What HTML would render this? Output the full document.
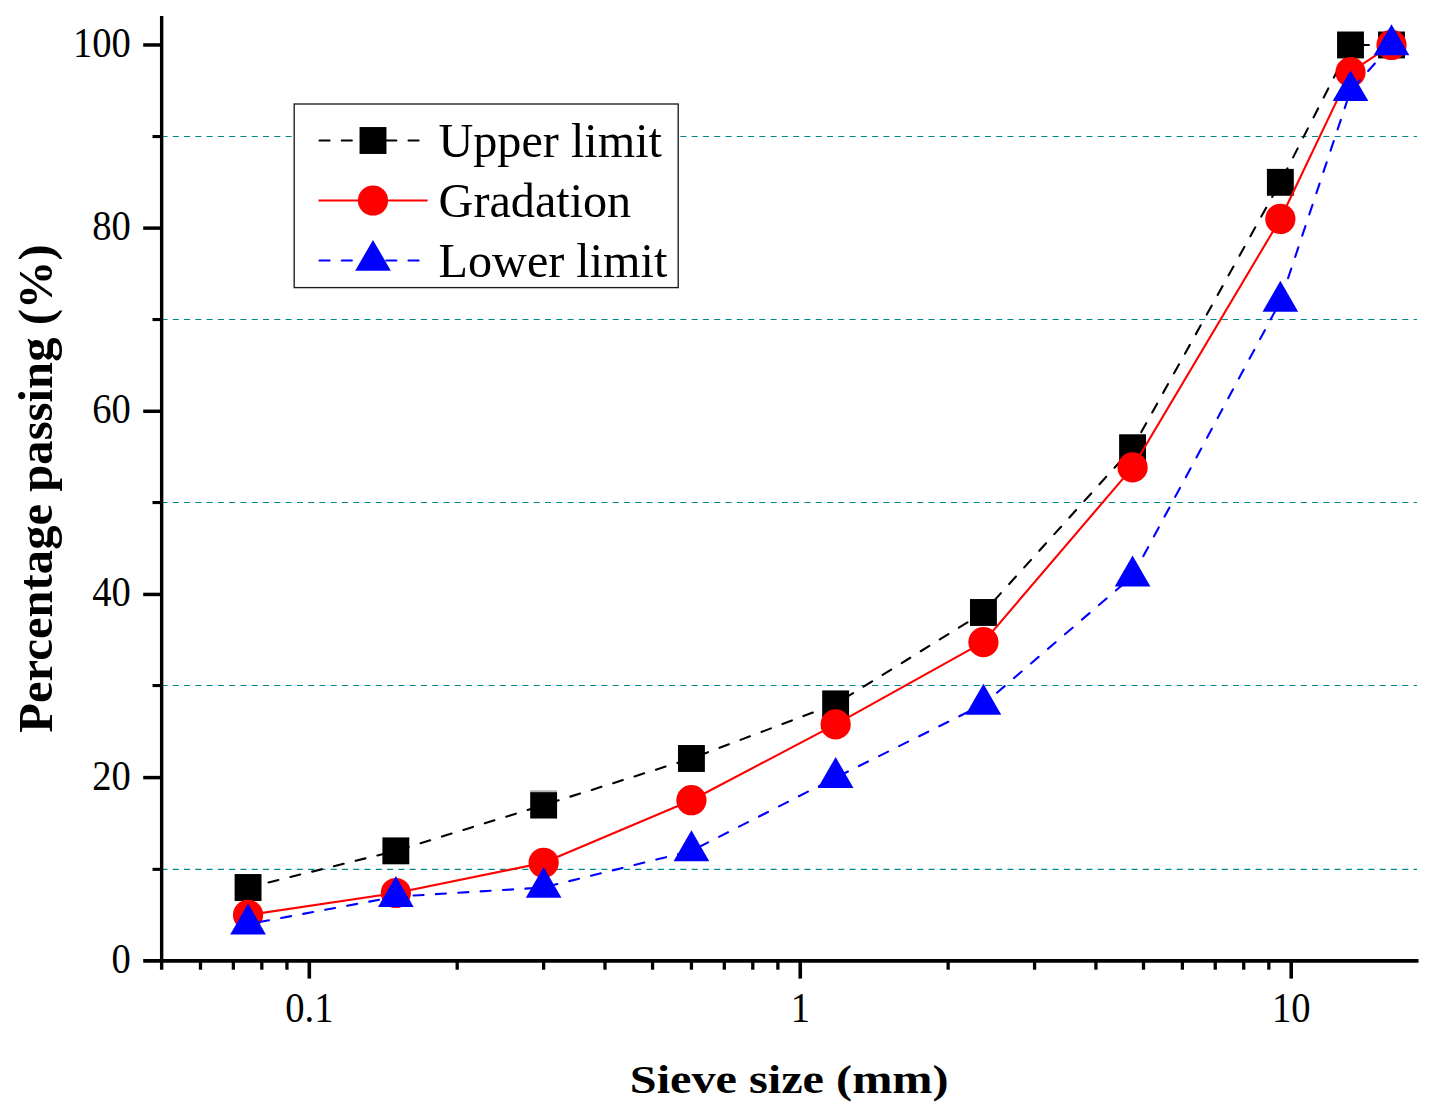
<!DOCTYPE html>
<html><head><meta charset="utf-8"><title>Gradation curve</title>
<style>
html,body{margin:0;padding:0;background:#fff;}
body{width:1437px;height:1115px;overflow:hidden;}
svg{display:block;}
text{font-family:"Liberation Serif",serif;fill:#000;}
</style></head><body>
<svg width="1437" height="1115" viewBox="0 0 1437 1115">
<rect x="0" y="0" width="1437" height="1115" fill="#ffffff"/>
<g stroke="#008b8b" stroke-width="1.15" stroke-dasharray="6.1 5.18" fill="none">
<line x1="161.44" y1="869.30" x2="1417.00" y2="869.30"/>
<line x1="161.44" y1="685.50" x2="1417.00" y2="685.50"/>
<line x1="161.44" y1="502.50" x2="1417.00" y2="502.50"/>
<line x1="161.44" y1="319.50" x2="1417.00" y2="319.50"/>
<line x1="161.44" y1="136.50" x2="1417.00" y2="136.50"/>
</g>
<polyline points="248.06,887.50 395.85,850.86 543.64,805.07 691.43,758.46 835.64,703.88 983.43,612.48 1132.57,447.73 1280.36,182.33 1350.50,44.96 1391.51,44.96" fill="none" stroke="#000" stroke-width="2.1" stroke-dasharray="10.1 12.32" stroke-dashoffset="1.24" stroke-linecap="round" stroke-linejoin="round"/>
<rect x="234.61" y="874.05" width="26.90" height="26.90" fill="#000"/>
<rect x="382.40" y="837.41" width="26.90" height="26.90" fill="#000"/>
<rect x="530.19" y="791.62" width="26.90" height="26.90" fill="#000"/>
<rect x="677.98" y="745.01" width="26.90" height="26.90" fill="#000"/>
<rect x="822.19" y="690.43" width="26.90" height="26.90" fill="#000"/>
<rect x="969.98" y="599.03" width="26.90" height="26.90" fill="#000"/>
<rect x="1119.12" y="434.28" width="26.90" height="26.90" fill="#000"/>
<rect x="1266.91" y="168.88" width="26.90" height="26.90" fill="#000"/>
<rect x="1337.05" y="31.51" width="26.90" height="26.90" fill="#000"/>
<rect x="1378.06" y="31.51" width="26.90" height="26.90" fill="#000"/>
<rect x="530.2" y="790.2" width="26.8" height="2" fill="#b4b4b4"/>
<polyline points="248.06,914.97 395.85,892.99 543.64,862.77 691.43,800.22 835.64,724.39 983.43,642.15 1132.57,467.42 1280.36,218.96 1350.50,72.16 1391.51,44.96" fill="none" stroke="#ff0000" stroke-width="2.1" stroke-linejoin="round"/>
<circle cx="248.06" cy="914.97" r="15.1" fill="#ff0000"/>
<circle cx="395.85" cy="892.99" r="15.1" fill="#ff0000"/>
<circle cx="543.64" cy="862.77" r="15.1" fill="#ff0000"/>
<circle cx="691.43" cy="800.22" r="15.1" fill="#ff0000"/>
<circle cx="835.64" cy="724.39" r="15.1" fill="#ff0000"/>
<circle cx="983.43" cy="642.15" r="15.1" fill="#ff0000"/>
<circle cx="1132.57" cy="467.42" r="15.1" fill="#ff0000"/>
<circle cx="1280.36" cy="218.96" r="15.1" fill="#ff0000"/>
<circle cx="1350.50" cy="72.16" r="15.1" fill="#ff0000"/>
<circle cx="1391.51" cy="44.96" r="15.1" fill="#ff0000"/>
<polyline points="248.06,924.13 395.85,896.65 543.64,887.50 691.43,850.86 835.64,777.60 983.43,704.34 1132.57,576.12 1280.36,301.38 1350.50,90.75 1391.51,44.96" fill="none" stroke="#0000ff" stroke-width="2.1" stroke-dasharray="10.1 12.3" stroke-dashoffset="11.16" stroke-linecap="round" stroke-linejoin="round"/>
<polygon points="248.06,903.53 265.90,934.43 230.22,934.43" fill="#0000ff"/>
<polygon points="395.85,876.05 413.69,906.95 378.01,906.95" fill="#0000ff"/>
<polygon points="543.64,866.90 561.48,897.80 525.80,897.80" fill="#0000ff"/>
<polygon points="691.43,830.26 709.27,861.16 673.59,861.16" fill="#0000ff"/>
<polygon points="835.64,757.00 853.48,787.90 817.80,787.90" fill="#0000ff"/>
<polygon points="983.43,683.74 1001.27,714.64 965.59,714.64" fill="#0000ff"/>
<polygon points="1132.57,555.52 1150.41,586.42 1114.73,586.42" fill="#0000ff"/>
<polygon points="1280.36,280.78 1298.20,311.68 1262.52,311.68" fill="#0000ff"/>
<polygon points="1350.50,70.15 1368.34,101.05 1332.66,101.05" fill="#0000ff"/>
<polygon points="1391.51,24.36 1409.35,55.26 1373.67,55.26" fill="#0000ff"/>
<g stroke="#000" fill="none" stroke-linecap="butt">
<line x1="161.65" y1="16.10" x2="161.65" y2="969.80" stroke-width="3.4"/>
<line x1="143.20" y1="960.90" x2="1418.50" y2="960.90" stroke-width="3.7"/>
<line x1="152.50" y1="869.35" x2="161.65" y2="869.35" stroke-width="3.1"/>
<line x1="143.20" y1="777.60" x2="161.65" y2="777.60" stroke-width="3.5"/>
<line x1="152.50" y1="685.55" x2="161.65" y2="685.55" stroke-width="3.1"/>
<line x1="143.20" y1="594.44" x2="161.65" y2="594.44" stroke-width="3.5"/>
<line x1="152.50" y1="502.55" x2="161.65" y2="502.55" stroke-width="3.1"/>
<line x1="143.20" y1="411.28" x2="161.65" y2="411.28" stroke-width="3.5"/>
<line x1="152.50" y1="319.55" x2="161.65" y2="319.55" stroke-width="3.1"/>
<line x1="143.20" y1="228.12" x2="161.65" y2="228.12" stroke-width="3.5"/>
<line x1="152.50" y1="136.55" x2="161.65" y2="136.55" stroke-width="3.1"/>
<line x1="143.20" y1="44.96" x2="161.65" y2="44.96" stroke-width="3.5"/>
<line x1="200.48" y1="960.90" x2="200.48" y2="969.70" stroke-width="3.3"/>
<line x1="233.35" y1="960.90" x2="233.35" y2="969.70" stroke-width="3.3"/>
<line x1="261.82" y1="960.90" x2="261.82" y2="969.70" stroke-width="3.3"/>
<line x1="286.94" y1="960.90" x2="286.94" y2="969.70" stroke-width="3.3"/>
<line x1="309.30" y1="960.90" x2="309.30" y2="978.60" stroke-width="3.6"/>
<line x1="457.19" y1="960.90" x2="457.19" y2="969.70" stroke-width="3.3"/>
<line x1="543.64" y1="960.90" x2="543.64" y2="969.70" stroke-width="3.3"/>
<line x1="604.98" y1="960.90" x2="604.98" y2="969.70" stroke-width="3.3"/>
<line x1="652.56" y1="960.90" x2="652.56" y2="969.70" stroke-width="3.3"/>
<line x1="691.43" y1="960.90" x2="691.43" y2="969.70" stroke-width="3.3"/>
<line x1="724.30" y1="960.90" x2="724.30" y2="969.70" stroke-width="3.3"/>
<line x1="752.77" y1="960.90" x2="752.77" y2="969.70" stroke-width="3.3"/>
<line x1="777.89" y1="960.90" x2="777.89" y2="969.70" stroke-width="3.3"/>
<line x1="800.25" y1="960.90" x2="800.25" y2="978.60" stroke-width="3.6"/>
<line x1="948.14" y1="960.90" x2="948.14" y2="969.70" stroke-width="3.3"/>
<line x1="1034.59" y1="960.90" x2="1034.59" y2="969.70" stroke-width="3.3"/>
<line x1="1095.93" y1="960.90" x2="1095.93" y2="969.70" stroke-width="3.3"/>
<line x1="1143.51" y1="960.90" x2="1143.51" y2="969.70" stroke-width="3.3"/>
<line x1="1182.38" y1="960.90" x2="1182.38" y2="969.70" stroke-width="3.3"/>
<line x1="1215.25" y1="960.90" x2="1215.25" y2="969.70" stroke-width="3.3"/>
<line x1="1243.72" y1="960.90" x2="1243.72" y2="969.70" stroke-width="3.3"/>
<line x1="1268.84" y1="960.90" x2="1268.84" y2="969.70" stroke-width="3.3"/>
<line x1="1291.20" y1="960.90" x2="1291.20" y2="978.60" stroke-width="3.6"/>
</g>
<text font-size="40" text-anchor="end" transform="translate(130.80,972.66) scale(0.965,1.03)">0</text>
<text font-size="40" text-anchor="end" transform="translate(130.80,789.50) scale(0.965,1.03)">20</text>
<text font-size="40" text-anchor="end" transform="translate(130.80,606.34) scale(0.965,1.03)">40</text>
<text font-size="40" text-anchor="end" transform="translate(130.80,423.18) scale(0.965,1.03)">60</text>
<text font-size="40" text-anchor="end" transform="translate(130.80,240.02) scale(0.965,1.03)">80</text>
<text font-size="40" text-anchor="end" transform="translate(130.80,56.86) scale(0.965,1.03)">100</text>
<text font-size="40" text-anchor="middle" transform="translate(309.40,1022.20) scale(0.965,1.03)">0.1</text>
<text font-size="40" text-anchor="middle" transform="translate(800.35,1022.20) scale(0.965,1.03)">1</text>
<text font-size="40" text-anchor="middle" transform="translate(1291.30,1022.20) scale(0.965,1.03)">10</text>
<text font-size="49" font-weight="bold" text-anchor="middle" transform="translate(51.8,488.5) rotate(-90) scale(0.9935,1.005)">Percentage passing (%)</text>
<text font-size="49" font-weight="bold" text-anchor="middle" transform="translate(789.2,1093.4) scale(0.9845,0.838)">Sieve size (mm)</text>
<rect x="294.2" y="104" width="384" height="183.6" fill="#fff" stroke="#1c1c1c" stroke-width="1.35"/>
<line x1="319.50" y1="140.50" x2="426.60" y2="140.50" stroke="#000" stroke-width="2.1" stroke-dasharray="10.1 12.15" stroke-linecap="round"/>
<rect x="359.55" y="127.05" width="26.90" height="26.90" fill="#000"/>
<line x1="318.50" y1="200.50" x2="427.60" y2="200.50" stroke="#ff0000" stroke-width="2.1"/>
<circle cx="373.00" cy="200.50" r="15.1" fill="#ff0000"/>
<line x1="319.50" y1="260.50" x2="426.60" y2="260.50" stroke="#0000ff" stroke-width="2.1" stroke-dasharray="10.1 12.15" stroke-linecap="round"/>
<polygon points="373.00,239.90 390.84,270.80 355.16,270.80" fill="#0000ff"/>
<text font-size="48" transform="translate(438.5,157.4) scale(1.004,1.03)">Upper limit</text>
<text font-size="48" transform="translate(438.6,216.8) scale(1.004,1.03)">Gradation</text>
<text font-size="48" transform="translate(438.6,276.5) scale(1.004,1.03)">Lower limit</text>
</svg>
</body></html>
